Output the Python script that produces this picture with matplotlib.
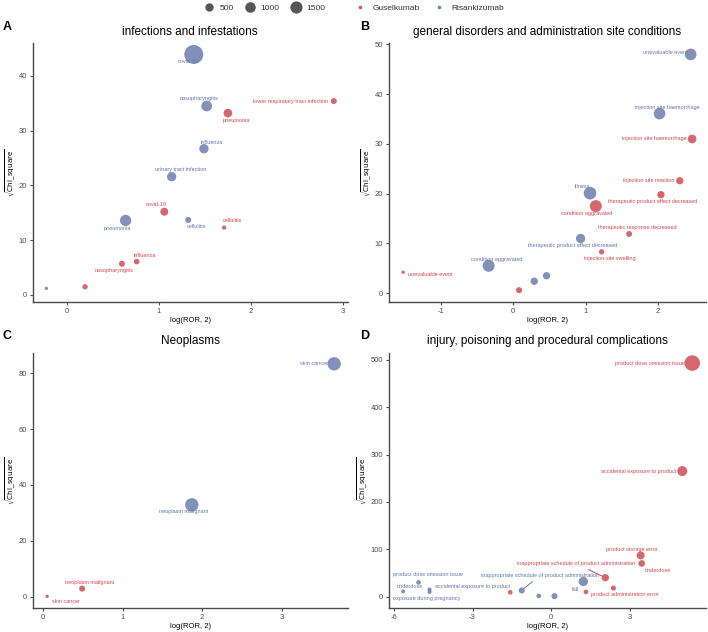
import numpy as np
import matplotlib
matplotlib.use("Agg")
import matplotlib.pyplot as plt
from matplotlib.lines import Line2D

plt.rcParams['font.family'] = ['Liberation Sans', 'DejaVu Sans']
plt.rcParams['mathtext.fontset'] = 'dejavusans'
plt.rcParams['axes.unicode_minus'] = False

# ====== DATA ======
# panel A: infections and infestations
a_gus_name = ["lower respiratory tract infection", "pneumonia", "covid-19", "cellulitis",
              "influenza", "nasopharyngitis", ""]
a_gus_x = [2.90, 1.75, 1.06, 1.71, 0.76, 0.60, 0.20]
a_gus_y = [35.4, 33.2, 15.2, 12.3, 6.1, 5.7, 1.5]
a_gus_n = [156, 565, 438, 29, 122, 156, 93]
a_ris_name = ["covid-19", "nasopharyngitis", "influenza", "urinary tract infection",
              "pneumonia", "cellulitis", ""]
a_ris_x = [1.38, 1.52, 1.49, 1.14, 0.64, 1.32, -0.22]
a_ris_y = [43.9, 34.5, 26.7, 21.6, 13.6, 13.7, 1.2]
a_ris_n = [4560, 1040, 707, 707, 1229, 156, 2]

# panel B: general disorders and administration site conditions
b_gus_name = ["injection site haemorrhage", "injection site reaction",
              "therapeutic product effect decreased", "condition aggravated",
              "therapeutic response decreased", "injection site swelling",
              "unevaluable event", ""]
b_gus_x = [2.47, 2.30, 2.04, 1.14, 1.60, 1.22, -1.52, 0.08]
b_gus_y = [31.0, 22.6, 19.8, 17.5, 11.9, 8.3, 4.2, 0.6]
b_gus_n = [565, 328, 328, 1435, 156, 93, 2, 156]
b_ris_name = ["unevaluable event", "injection site haemorrhage", "illness",
              "therapeutic product effect decreased", "condition aggravated", "", ""]
b_ris_x = [2.45, 2.02, 1.06, 0.93, -0.34, 0.46, 0.29]
b_ris_y = [48.0, 36.1, 20.1, 11.0, 5.5, 3.5, 2.4]
b_ris_n = [1330, 1330, 1657, 707, 1435, 328, 328]

# panel C: Neoplasms
c_gus_name = ["neoplasm malignant", "skin cancer"]
c_gus_x = [0.49, 0.05]
c_gus_y = [2.9, 0.1]
c_gus_n = [156, 2]
c_ris_name = ["skin cancer", "neoplasm malignant"]
c_ris_x = [3.66, 1.87]
c_ris_y = [83.4, 32.9]
c_ris_n = [1895, 1895]

# panel D: injury, poisoning and procedural complications
d_gus_name = ["product dose omission issue", "accidental exposure to product",
              "product storage error", "underdose",
              "inappropriate schedule of product administration", "",
              "product administration error", ""]
d_gus_x = [5.39, 5.01, 3.42, 3.46, 2.07, 2.38, 1.33, -1.56]
d_gus_y = [493, 265, 87, 70, 40, 18, 10, 9]
d_gus_n = [2800, 865, 438, 234, 328, 68, 47, 47]
d_ris_name = ["fall", "inappropriate schedule of product administration", "", "",
              "product dose omission issue", "accidental exposure to product",
              "exposure during pregnancy", "underdose"]
d_ris_x = [1.23, -1.12, 0.13, -0.47, -5.06, -4.64, -4.64, -5.65]
d_ris_y = [32, 13, 1, 1.5, 30, 15, 10, 11]
d_ris_n = [707, 156, 156, 47, 47, 16, 16, 16]

size_breaks = [500, 1000, 1500]
drugs = ["Guselkumab", "Risankizumab"]
# ====================

RED = '#D0585E'
BLUE = '#7385B2'
RED_TXT = '#D4464E'
BLUE_TXT = '#6576A8'


def diam(n):
    # marker diameter in points
    return 2.2 + 0.17 * np.sqrt(np.asarray(n, dtype=float))


# label offsets in pixels (dx, dy, ha) keyed by panel/drug/name
OFF = {
    ('A', 0, "lower respiratory tract infection"): (-6, 0, 'right'),
    ('A', 0, "pneumonia"): (8, -7, 'center'),
    ('A', 0, "covid-19"): (-8, 7, 'center'),
    ('A', 0, "cellulitis"): (8, 7, 'center'),
    ('A', 0, "influenza"): (8, 6, 'center'),
    ('A', 0, "nasopharyngitis"): (-8, -7, 'center'),
    ('A', 1, "covid-19"): (-6, -7, 'center'),
    ('A', 1, "nasopharyngitis"): (-8, 7, 'center'),
    ('A', 1, "influenza"): (8, 6, 'center'),
    ('A', 1, "urinary tract infection"): (9, 7, 'center'),
    ('A', 1, "pneumonia"): (-8, -8, 'center'),
    ('A', 1, "cellulitis"): (8, -7, 'center'),
    ('B', 0, "injection site haemorrhage"): (-5, 0, 'right'),
    ('B', 0, "injection site reaction"): (-5, 0, 'right'),
    ('B', 0, "therapeutic product effect decreased"): (-8, -7, 'center'),
    ('B', 0, "condition aggravated"): (-9, -7, 'center'),
    ('B', 0, "therapeutic response decreased"): (8, 6, 'center'),
    ('B', 0, "injection site swelling"): (8, -7, 'center'),
    ('B', 0, "unevaluable event"): (5, -2, 'left'),
    ('B', 1, "unevaluable event"): (-3, 2, 'right'),
    ('B', 1, "injection site haemorrhage"): (8, 6, 'center'),
    ('B', 1, "illness"): (-8, 7, 'center'),
    ('B', 1, "therapeutic product effect decreased"): (-8, -7, 'center'),
    ('B', 1, "condition aggravated"): (8, 6, 'center'),
    ('C', 0, "neoplasm malignant"): (8, 6, 'center'),
    ('C', 0, "skin cancer"): (19, -5, 'center'),
    ('C', 1, "skin cancer"): (-6, 0, 'right'),
    ('C', 1, "neoplasm malignant"): (-8, -7, 'center'),
    ('D', 0, "product dose omission issue"): (-7, 0, 'right'),
    ('D', 0, "accidental exposure to product"): (-6, 0, 'right'),
    ('D', 0, "product storage error"): (-9, 6, 'center'),
    ('D', 0, "underdose"): (16, -7, 'center'),
    ('D', 0, "inappropriate schedule of product administration"): (-29, 14, 'center'),
    ('D', 0, "product administration error"): (39, -3, 'center'),
    ('D', 1, "fall"): (-8, -8, 'center'),
    ('D', 1, "inappropriate schedule of product administration"): (18, 15, 'center'),
    ('D', 1, "product dose omission issue"): (9, 8, 'center'),
    ('D', 1, "accidental exposure to product"): (43, 3, 'center'),
    ('D', 1, "exposure during pregnancy"): (-3, -7, 'center'),
    ('D', 1, "underdose"): (7, 5, 'center'),
}
SEGMENT = {('D', 0, "inappropriate schedule of product administration"),
           ('D', 1, "inappropriate schedule of product administration")}

panels = [
    ('A', "infections and infestations",
     [(a_gus_name, a_gus_x, a_gus_y, a_gus_n), (a_ris_name, a_ris_x, a_ris_y, a_ris_n)],
     (-0.37, 3.05), (-1.3, 46), [0, 1, 2, 3], [0, 10, 20, 30, 40],
     [0.046, 0.522, 0.445, 0.410]),
    ('B', "general disorders and administration site conditions",
     [(b_gus_name, b_gus_x, b_gus_y, b_gus_n), (b_ris_name, b_ris_x, b_ris_y, b_ris_n)],
     (-1.72, 2.66), (-1.8, 50.3), [-1, 0, 1, 2], [0, 10, 20, 30, 40, 50],
     [0.549, 0.522, 0.448, 0.410]),
    ('C', "Neoplasms",
     [(c_gus_name, c_gus_x, c_gus_y, c_gus_n), (c_ris_name, c_ris_x, c_ris_y, c_ris_n)],
     (-0.133, 3.83), (-4.05, 87.4), [0, 1, 2, 3], [0, 20, 40, 60, 80],
     [0.046, 0.038, 0.445, 0.404]),
    ('D', "injury, poisoning and procedural complications",
     [(d_gus_name, d_gus_x, d_gus_y, d_gus_n), (d_ris_name, d_ris_x, d_ris_y, d_ris_n)],
     (-6.2, 5.91), (-24, 515), [-6, -3, 0, 3], [0, 100, 200, 300, 400, 500],
     [0.549, 0.038, 0.448, 0.404]),
]

fig = plt.figure(figsize=(7.08, 6.32), dpi=100)

for letter, title, series, xlim, ylim, xt, yt, rect in panels:
    ax = fig.add_axes(rect)
    for k, (names, xs, ys, ns) in enumerate(series):
        col = RED if k == 0 else BLUE
        tcol = RED_TXT if k == 0 else BLUE_TXT
        d = diam(ns)
        ax.scatter(xs, ys, s=d ** 2, color=col, alpha=0.9, linewidths=0, zorder=3)
        for nm, x, y, dd in zip(names, xs, ys, d):
            if not nm:
                continue
            dx, dy, ha = OFF[(letter, k, nm)]
            kw = {}
            if (letter, k, nm) in SEGMENT:
                kw['arrowprops'] = dict(arrowstyle='-', color=tcol, lw=0.7,
                                        shrinkA=1, shrinkB=dd / 2)
            ax.annotate(nm, (x, y), xytext=(dx, dy), textcoords='offset pixels',
                        ha=ha, va='center', fontsize=4.0, color=tcol, zorder=4, **kw)
    ax.set_xlim(*xlim)
    ax.set_ylim(*ylim)
    ax.set_xticks(xt)
    ax.set_yticks(yt)
    for s in ['top', 'right']:
        ax.spines[s].set_visible(False)
    for s in ['left', 'bottom']:
        ax.spines[s].set_color('#4a4a4a')
        ax.spines[s].set_linewidth(1.0)
    ax.tick_params(labelsize=5.5, labelcolor='#4D4D4D', color='#4a4a4a',
                   length=2, width=0.8, pad=2)
    ax.set_xlabel("log(ROR, 2)", fontsize=5.5, labelpad=2)
    ax.set_ylabel(r"$\sqrt{\mathrm{Chi\_square}}$", fontsize=5.2, labelpad=1)
    ax.set_title(title, fontsize=8.5, pad=6)
    pos = ax.get_position()
    fig.text(0.004 if letter in 'AC' else 0.508, pos.y1 + 0.026, letter,
             fontsize=9, fontweight='bold', ha='left', va='center')

# legends on top
size_handles = [Line2D([], [], ls='none', marker='o', markersize=diam(b),
                       markerfacecolor='#555555', markeredgewidth=0) for b in size_breaks]
fig.legend(size_handles, [str(b) for b in size_breaks], loc='center',
           bbox_to_anchor=(263 / 708, 1 - 8 / 632), ncol=3, frameon=False,
           fontsize=6, handletextpad=0.2, columnspacing=1.0, labelcolor='#333333')
col_handles = [Line2D([], [], ls='none', marker='o', markersize=2.6,
                      markerfacecolor=c, markeredgewidth=0) for c in [RED, BLUE]]
fig.legend(col_handles, drugs, loc='center', bbox_to_anchor=(428 / 708, 1 - 8 / 632),
           ncol=2, frameon=False, fontsize=6, handletextpad=0.5, columnspacing=1.4,
           labelcolor='#333333')

fig.savefig("out.png", dpi=100)
